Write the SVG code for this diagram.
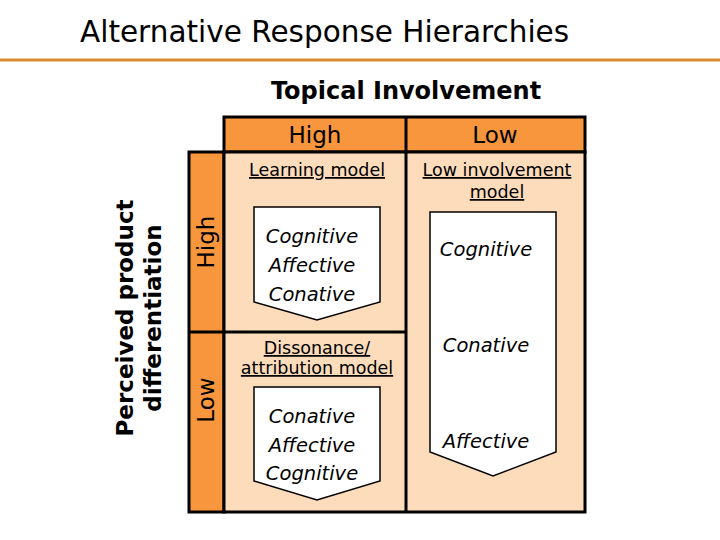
<svg xmlns="http://www.w3.org/2000/svg" width="720" height="540" viewBox="0 0 720 540">
<style>
text{font-family:"DejaVu Sans",Verdana,sans-serif;fill:#000}
.hd{fill:#F7963C;stroke:#000;stroke-width:3}
.cell{fill:#FDDCBC;stroke:#000;stroke-width:3}
.pent{fill:#fff;stroke:#000;stroke-width:1.5}
.it{font-style:italic;font-size:19.5px}
.u{font-size:17.5px;text-decoration:underline}
</style>
<rect width="720" height="540" fill="#fff"/>
<text x="80" y="42" font-size="29.5">Alternative Response Hierarchies</text>
<line x1="0" y1="60" x2="720" y2="60" stroke="#D98A2E" stroke-width="3"/>
<text x="406" y="99" font-size="24" font-weight="bold" text-anchor="middle">Topical Involvement</text>
<g id="headers">
<rect class="hd" x="224" y="117" width="361" height="35"/>
<line x1="406" y1="117" x2="406" y2="152" stroke="#000" stroke-width="3"/>
<text x="315" y="143" font-size="23" text-anchor="middle">High</text>
<text x="495" y="143" font-size="23" text-anchor="middle">Low</text>
<rect class="hd" x="189" y="152" width="35" height="360"/>
<line x1="189" y1="332" x2="224" y2="332" stroke="#000" stroke-width="3"/>
<text transform="translate(214,242) rotate(-90)" font-size="23" text-anchor="middle">High</text>
<text transform="translate(214,400) rotate(-90)" font-size="23" text-anchor="middle">Low</text>
<text transform="translate(133,318) rotate(-90)" font-size="23" font-weight="bold" text-anchor="middle"><tspan x="0" dy="0">Perceived product</tspan><tspan x="0" dy="28">differentiation</tspan></text>
</g>
<g id="cells">
<rect class="cell" x="224" y="152" width="361" height="360"/>
<line x1="406" y1="152" x2="406" y2="512" stroke="#000" stroke-width="3"/>
<line x1="224" y1="332" x2="406" y2="332" stroke="#000" stroke-width="3"/>
</g>
<g id="learning">
<text class="u" x="317" y="176" text-anchor="middle">Learning model</text>
<polygon class="pent" points="254,207 380,207 380,302 317,320 254,302"/>
<text class="it" x="312" y="243" text-anchor="middle">Cognitive</text>
<text class="it" x="312" y="272" text-anchor="middle">Affective</text>
<text class="it" x="312" y="301" text-anchor="middle">Conative</text>
</g>
<g id="lowinv">
<text class="u" x="497" y="176" text-anchor="middle">Low involvement</text>
<text class="u" x="497" y="198" text-anchor="middle"> model</text>
<polygon class="pent" points="430,212 556,212 556,452 493,476 430,452"/>
<text class="it" x="486" y="256" text-anchor="middle">Cognitive</text>
<text class="it" x="486" y="352" text-anchor="middle">Conative</text>
<text class="it" x="486" y="448" text-anchor="middle">Affective</text>
</g>
<g id="dissonance">
<text class="u" x="317" y="354" text-anchor="middle">Dissonance/</text>
<text class="u" x="317" y="374" text-anchor="middle">attribution model</text>
<polygon class="pent" points="254,387 380,387 380,481 317,500 254,481"/>
<text class="it" x="312" y="423" text-anchor="middle">Conative</text>
<text class="it" x="312" y="452" text-anchor="middle">Affective</text>
<text class="it" x="312" y="480" text-anchor="middle">Cognitive</text>
</g>
<g id="connectors"></g>
</svg>
